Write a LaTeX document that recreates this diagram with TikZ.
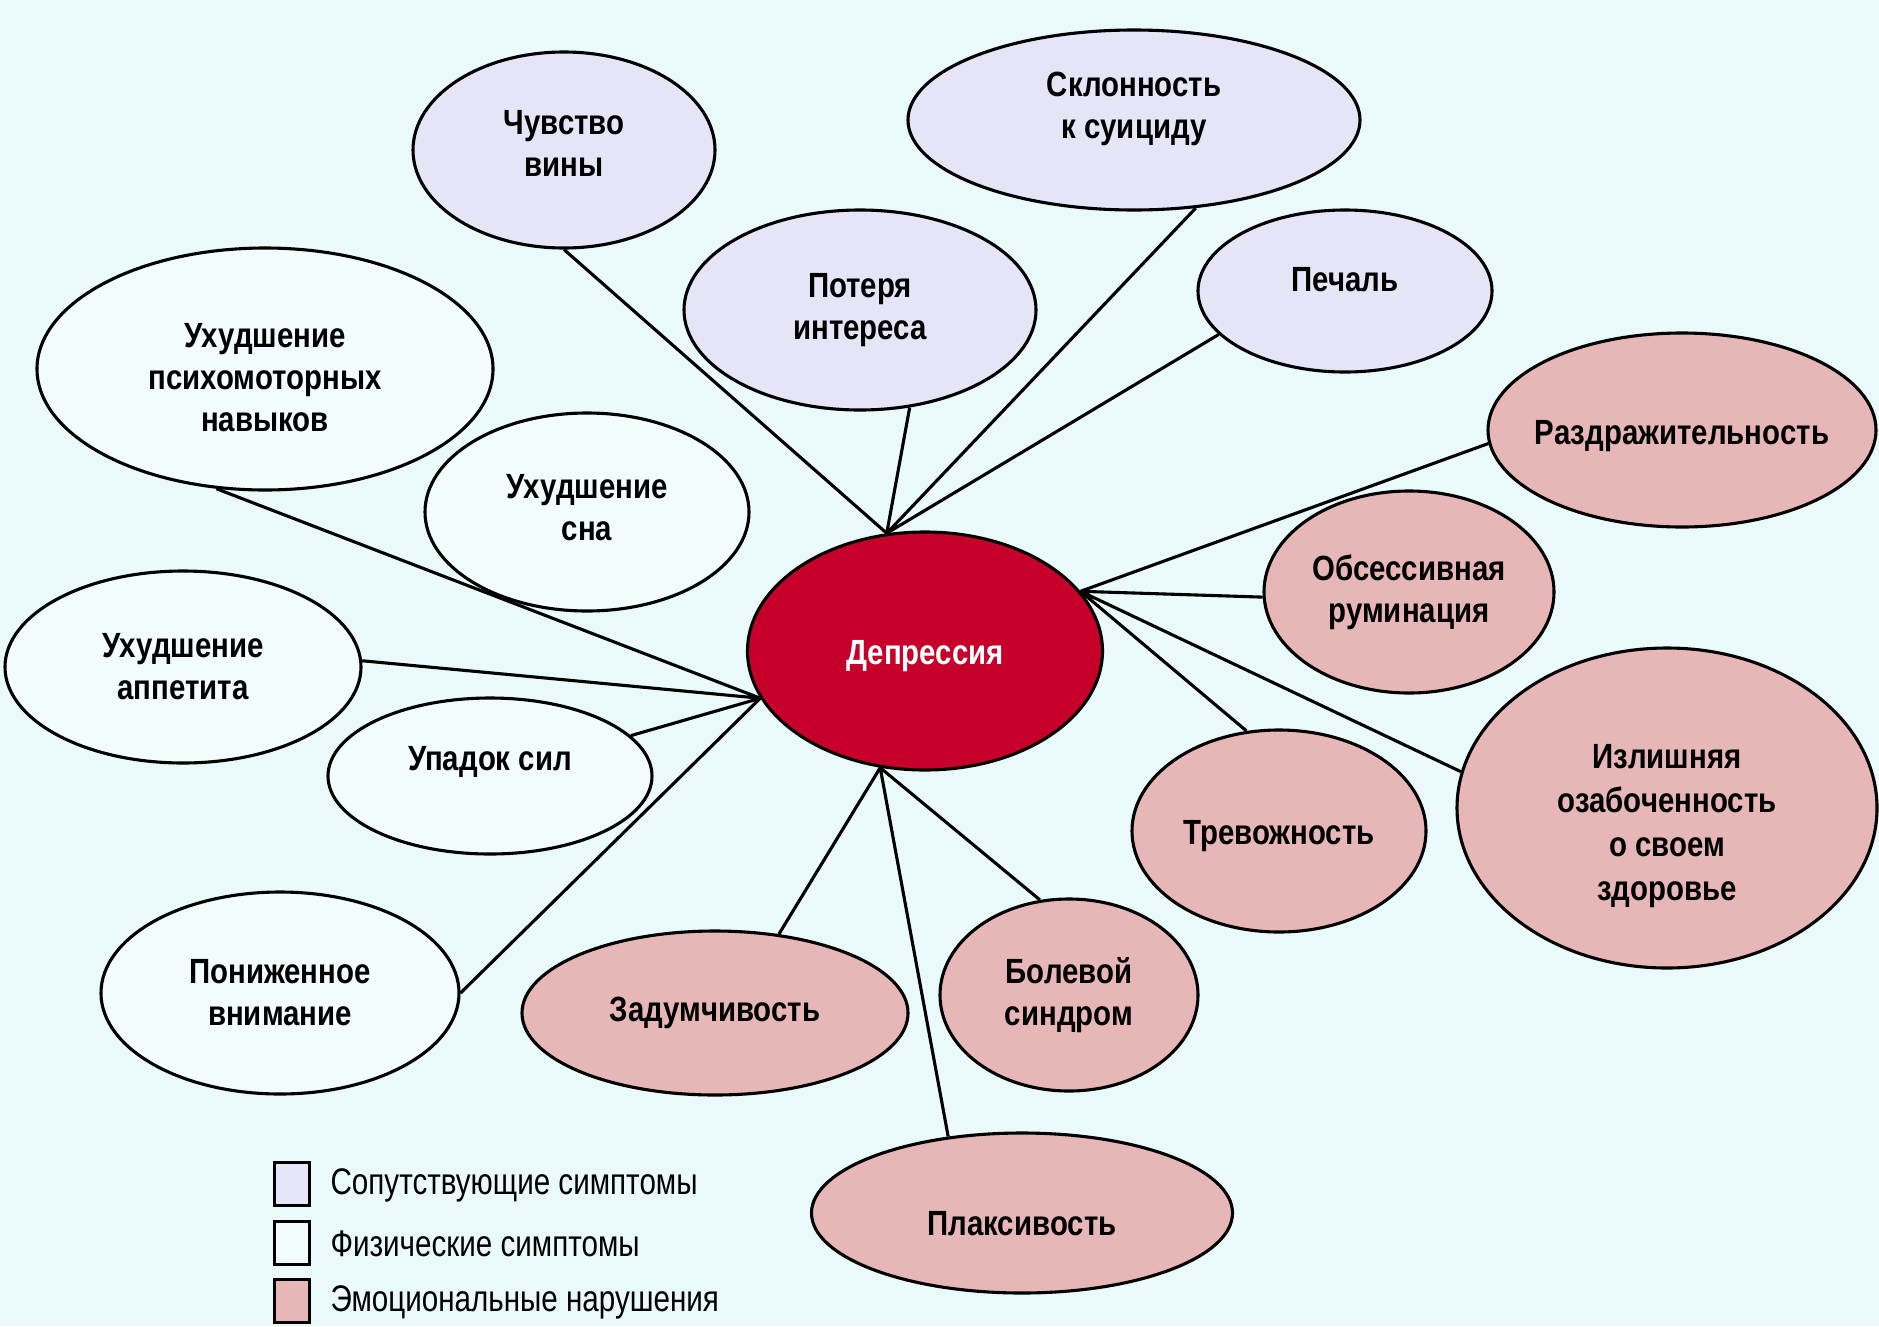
\documentclass[tikz,border=0pt]{standalone}
\usepackage{fontspec}
\setmainfont[FakeStretch=0.84]{Liberation Sans}
\newfontfamily\legfont[FakeStretch=0.80]{Liberation Sans}
\usetikzlibrary{shapes.geometric}

\definecolor{fon}{RGB}{234,250,251}
\definecolor{lav}{RGB}{230,228,247}
\definecolor{bel}{RGB}{242,252,252}
\definecolor{roz}{RGB}{231,183,183}
\definecolor{krasn}{RGB}{199,0,42}

% invisible rules that move the text up or down inside its ellipse
\newcommand{\vys}[1]{\rule{0pt}{#1pt}}
\newcommand{\glub}[1]{\rule[-#1pt]{0pt}{0pt}}

\begin{document}
\begin{tikzpicture}[x=1pt, y=-1pt, line width=3.1pt,
    sym/.style={ellipse, draw, align=center, inner xsep=-12pt, inner ysep=0pt,
        font=\fontsize{35}{42}\selectfont\bfseries},
    soput/.style={sym, fill=lav},
    fiz/.style={sym, fill=bel},
    emo/.style={sym, fill=roz},
    leg/.style={rectangle, draw, minimum width=35pt, minimum height=43pt, inner sep=0},
    legtxt/.style={anchor=west, inner sep=0, font=\fontsize{37}{44}\legfont}]
    \fill[fon] (0,0) rectangle (1879,1326);
    \useasboundingbox (0,0) rectangle (1879,1326);

    \draw
    (564,150)node[soput, minimum width=302pt, minimum height=196pt](vina){Чувство\\вины\glub{14}}
    (1134,120)node[soput, minimum width=452pt, minimum height=180pt](suicid){Склонность\\к суициду\glub{29}}
    (860,310)node[soput, minimum width=352pt, minimum height=200pt](interes){Потеря\\интереса}
    (1345,291)node[soput, minimum width=294pt, minimum height=162pt](pechal){Печаль\glub{24}}
    (265,369)node[fiz, minimum width=456pt, minimum height=242pt](psiho){\vys{41}Ухудшение\\психомоторных\\навыков}
    (587,512)node[fiz, minimum width=324pt, minimum height=198pt](son){Ухудшение\\сна\glub{10}}
    (183,667)node[fiz, minimum width=356pt, minimum height=192pt](appetit){Ухудшение\\аппетита}
    (490,776)node[fiz, minimum width=324pt, minimum height=156pt](sily){Упадок сил\glub{35}}
    (280,993)node[fiz, minimum width=358pt, minimum height=202pt](vnim){Пониженное\\внимание}
    (1682,430)node[emo, minimum width=388pt, minimum height=194pt](razdr){\vys{37}Раздражительность}
    (1409,592)node[emo, minimum width=290pt, minimum height=202pt](obses){Обсессивная\\руминация}
    (1667,808)node[emo, minimum width=420pt, minimum height=320pt, font=\fontsize{35}{44}\selectfont\bfseries](zdorov){\vys{61}Излишняя\\озабоченность\\о своем\\здоровье}
    (1279,831)node[emo, minimum width=294pt, minimum height=202pt](trevog){\vys{35}Тревожность}
    (715,1013)node[emo, minimum width=386pt, minimum height=164pt](zadum){Задумчивость}
    (1069,995)node[emo, minimum width=258pt, minimum height=192pt](bol){Болевой\\синдром}
    (1022,1213)node[emo, minimum width=421pt, minimum height=160pt](plaks){\vys{45}Плаксивость}
    (925,651)node[sym, fill=krasn, text=white, minimum width=355pt, minimum height=238pt](dep){\vys{35}Депрессия}
    (dep.108)coordinate(verh)
    (dep.21)coordinate(prav)
    (dep.196)coordinate(lev)
    (dep.249)coordinate(niz)
    ;
    \draw (vina.south)--(verh) (suicid.305)--(verh) (interes.297)--(verh) (pechal.199)--(verh);
    \draw (psiho.248)--(lev) (appetit.2)--(lev) (sily.16)--(lev) (vnim.0)--(lev);
    \draw (razdr.184)--(prav) (obses.182)--(prav) (zdorov.170)--(prav) (trevog.108)--(prav);
    \draw (zadum.51)--(niz) (bol.107)--(niz) (plaks.134)--(niz);

    \draw
    (292,1184)node[leg, fill=lav](k1){}
    (292,1243)node[leg, fill=bel](k2){}
    (292,1301)node[leg, fill=roz](k3){}
    (k1.east)++(18,1)node[legtxt](t1){Сопутствующие симптомы}
    (k2.east)++(18,1)node[legtxt](t2){Физические симптомы}
    (k3.east)++(18,1)node[legtxt](t3){Эмоциональные нарушения}
    ;
\end{tikzpicture}
\end{document}
